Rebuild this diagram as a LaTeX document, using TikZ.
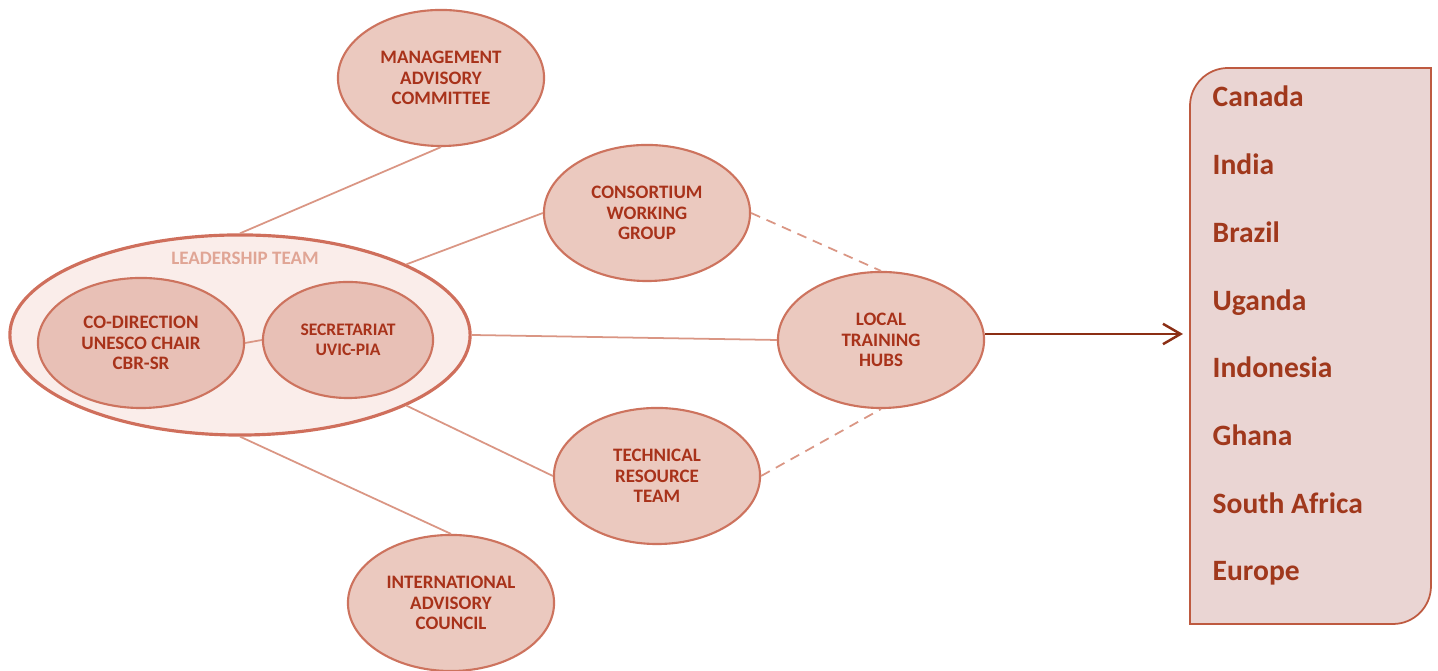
\documentclass[tikz,border=0pt]{standalone}
\usepackage{fontspec}
\setmainfont{Carlito}
\usepackage{tikz}
\usetikzlibrary{positioning}
\usetikzlibrary{shapes.geometric}
\usetikzlibrary{arrows.meta}

\definecolor{bodyfill}{HTML}{EBC9BF}
\definecolor{innerfill}{HTML}{E8C0B6}
\definecolor{bodyline}{HTML}{CD735E}
\definecolor{bodytext}{HTML}{A8321A}
\definecolor{leadfill}{HTML}{FAEDEA}
\definecolor{leadline}{HTML}{CF6F5C}
\definecolor{leadlabel}{HTML}{E0A595}
\definecolor{linkcol}{HTML}{DA9684}
\definecolor{boxfill}{HTML}{EAD5D3}
\definecolor{boxline}{HTML}{BE5A40}
\definecolor{arrowcol}{HTML}{8B2E14}
\definecolor{countrytext}{HTML}{A0381C}

\tikzset{
  body/.style={ellipse, draw=bodyline, fill=bodyfill, line width=0.6pt,
    minimum width=2.06cm, minimum height=1.36cm, inner sep=0pt,
    align=center, text=bodytext, font=\fontsize{5.4}{5.9}\selectfont\bfseries},
  link/.style={draw=linkcol, line width=0.5pt},
  loose/.style={link, dash pattern=on 2.8pt off 2pt},
  country/.style={anchor=base west, inner sep=0pt, text=countrytext,
    font=\fontsize{8.4}{10}\selectfont\bfseries}
}

\begin{document}
\begin{tikzpicture}[x=0.01cm,y=-0.01cm]
\useasboundingbox (0,0) rectangle (1438,671);

% leadership team
\node[ellipse, draw=leadline, fill=leadfill, line width=0.9pt,
  minimum width=4.6cm, minimum height=2cm] (lead) at (240,335) {};
\node[text=leadlabel, font=\fontsize{5.4}{6}\selectfont\bfseries] (leadlbl) at (245,258) {LEADERSHIP TEAM};
\node[body, fill=innerfill, minimum height=1.3cm] (codir) at (141,343) {CO-DIRECTION\\UNESCO CHAIR\\CBR-SR};
\node[body, fill=innerfill, minimum width=1.7cm, minimum height=1.16cm,
  font=\fontsize{5}{5.7}\selectfont\bfseries] (secr) at (348,340) {SECRETARIAT\\UVIC-PIA};
\draw[link] (codir.east) -- (secr.west);

% committees and groups
\node[body] (mac) at (441,78) {MANAGEMENT\\ADVISORY\\COMMITTEE};
\node[body] (cwg) at (647,213) {CONSORTIUM\\WORKING\\GROUP};
\node[body] (lth) at (881,340) {LOCAL\\TRAINING\\HUBS};
\node[body] (trt) at (657,476) {TECHNICAL\\RESOURCE\\TEAM};
\node[body] (iac) at (451,603) {INTERNATIONAL\\ADVISORY\\COUNCIL};

\draw[link] (lead.north) -- (mac.south);
\draw[link] (lead.23) -- (cwg.west);
\draw[link] (lead.east) -- (lth.west);
\draw[link] (lead.-23) -- (trt.west);
\draw[link] (lead.south) -- (iac.north);
\draw[loose] (cwg.east) -- (lth.north);
\draw[loose] (trt.east) -- (lth.south);

% countries
\draw[draw=boxline, fill=boxfill, line width=0.5pt]
  (1190,624) [rounded corners=0.38cm] -- (1190,68) [sharp corners] -- (1431,68)
  [rounded corners=0.38cm] -- (1431,624) [sharp corners] -- cycle;
\coordinate (boxin) at (1183,334);
\draw[arrowcol, line width=0.7pt, -{Straight Barb[length=5pt,width=5.8pt]}] (lth.east |- boxin) -- (boxin);

\foreach \name [count=\i from 0] in {Canada,India,Brazil,Uganda,Indonesia,Ghana,South Africa,Europe}
  \node[country] (c\i) at (1212,107+67.7*\i) {\name};
\end{tikzpicture}
\end{document}
